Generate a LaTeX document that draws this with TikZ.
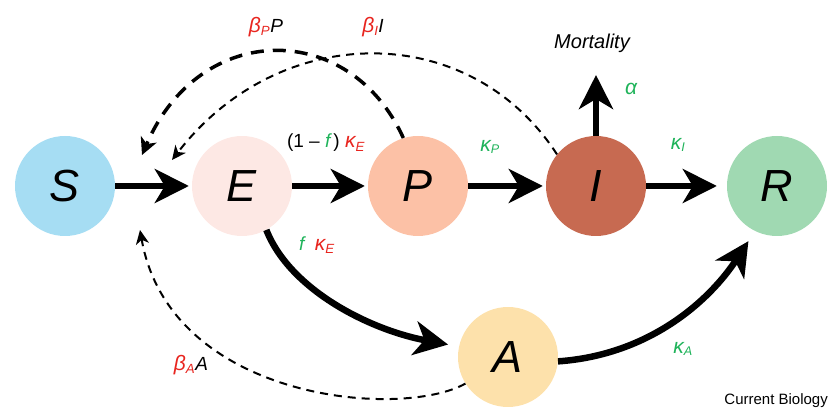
\documentclass[tikz,border=0pt]{standalone}
\usepackage{fontspec}
\setmainfont{Liberation Sans}
\usetikzlibrary{arrows.meta}
\definecolor{cS}{HTML}{A6DDF3}
\definecolor{cE}{HTML}{FDE8E4}
\definecolor{cP}{HTML}{FCC1A6}
\definecolor{cI}{HTML}{C76A51}
\definecolor{cR}{HTML}{A0D9B2}
\definecolor{cA}{HTML}{FDE1AB}
\definecolor{cred}{HTML}{E8251F}
\definecolor{cgreen}{HTML}{1FB35A}
\newcommand{\kap}[1]{\textcolor{cred}{{\fontsize{21}{21}\selectfont\itshape κ}\textsubscript{\itshape #1}}}
\newcommand{\kapg}[1]{\textcolor{cgreen}{{\fontsize{21}{21}\selectfont\itshape κ}\textsubscript{\itshape #1}}}
\newcommand{\bet}[1]{\textcolor{cred}{{\fontsize{21}{21}\selectfont\itshape β}\textsubscript{\itshape #1}}}
\tikzset{
  comp/.style={circle, minimum size=100pt, inner sep=0pt, font=\fontsize{45}{45}\selectfont\itshape},
  flow/.style={line width=6.5pt, -{Stealth[length=34pt,width=34pt,inset=10pt]}},
  inf/.style={line width=2pt, dash pattern=on 8pt off 6pt, -{Stealth[length=14pt,width=13pt,inset=4pt]}},
  infthick/.style={line width=3.5pt, dash pattern=on 13pt off 9pt, -{Stealth[length=17pt,width=17pt,inset=5pt]}},
  lab/.style={font=\fontsize{18}{18}\selectfont, inner sep=0pt},
  blab/.style={font=\fontsize{19}{19}\selectfont, inner sep=0pt},
}
\begin{document}
\begin{tikzpicture}[x=1pt,y=-1pt]
\useasboundingbox (0,0) rectangle (828,411);
\node[comp, fill=cS] (S) at (65,186) {S};
\node[comp, fill=cE] (E) at (242,186) {E};
\node[comp, fill=cP] (P) at (418,186) {P};
\node[comp, fill=cI] (I) at (596,186) {I};
\node[comp, fill=cR] (R) at (777,186) {R};
\node[comp, fill=cA] (A) at (508,357) {A};
\coordinate (mort) at (596,75);
\coordinate (tP) at (142,155);
\coordinate (tI) at (172,160);
\coordinate (tA) at (140,230);
% flows
\draw[flow, shorten >=3pt] (S) -- (E);
\draw[flow, shorten >=3pt] (E) -- (P);
\draw[flow, shorten >=3pt] (P) -- (I);
\draw[flow, shorten >=10pt] (I) -- (R);
\draw[flow] (I) -- (mort);
\draw[flow, shorten >=11pt] (E.-61.5) .. controls (290,290) and (370,330) .. (A.168);
\draw[flow, shorten >=12pt] (A.-5) .. controls (650,355) and (710,300) .. (R.-116);
% infections
\draw[infthick] (P.107) .. controls (350,20) and (200,20) .. (tP);
\draw[inf] (I.141) .. controls (470,20) and (280,20) .. (tI);
\draw[inf] (A.-148) .. controls (400,420) and (170,400) .. (tA);
% labels
\node[blab] (lbP) at (266,27) {\bet{P}\itshape P};
\node[blab] (lbI) at (373,27) {\bet{I}\itshape I};
\node[blab] (lbA) at (191,365) {\bet{A}\itshape A};
\node[lab, font=\fontsize{19}{19}\selectfont] (lE1) at (326,143) {(1 – \textcolor{cgreen}{\itshape f}\,)\ \kap{E}};
\node[lab, font=\fontsize{19}{19}\selectfont] (lE2) at (317,245) {\textcolor{cgreen}{\itshape f}\ \ \kap{E}};
\node[lab] (lkP) at (490,147) {\kapg{P}};
\node[lab] (lkI) at (678,145) {\kapg{I}};
\node[lab] (lkA) at (683,349) {\kapg{A}};
\node[lab] (lal) at (631,89) {\textcolor{cgreen}{\fontsize{21}{21}\selectfont\itshape α}};
\node[lab, font=\fontsize{20}{20}\selectfont\itshape, anchor=base] (lmort) at (592,49) {Mortality};
\node[lab, font=\fontsize{15}{15}\selectfont, anchor=base east] (cb) at (828,405) {Current Biology};
\end{tikzpicture}
\end{document}
